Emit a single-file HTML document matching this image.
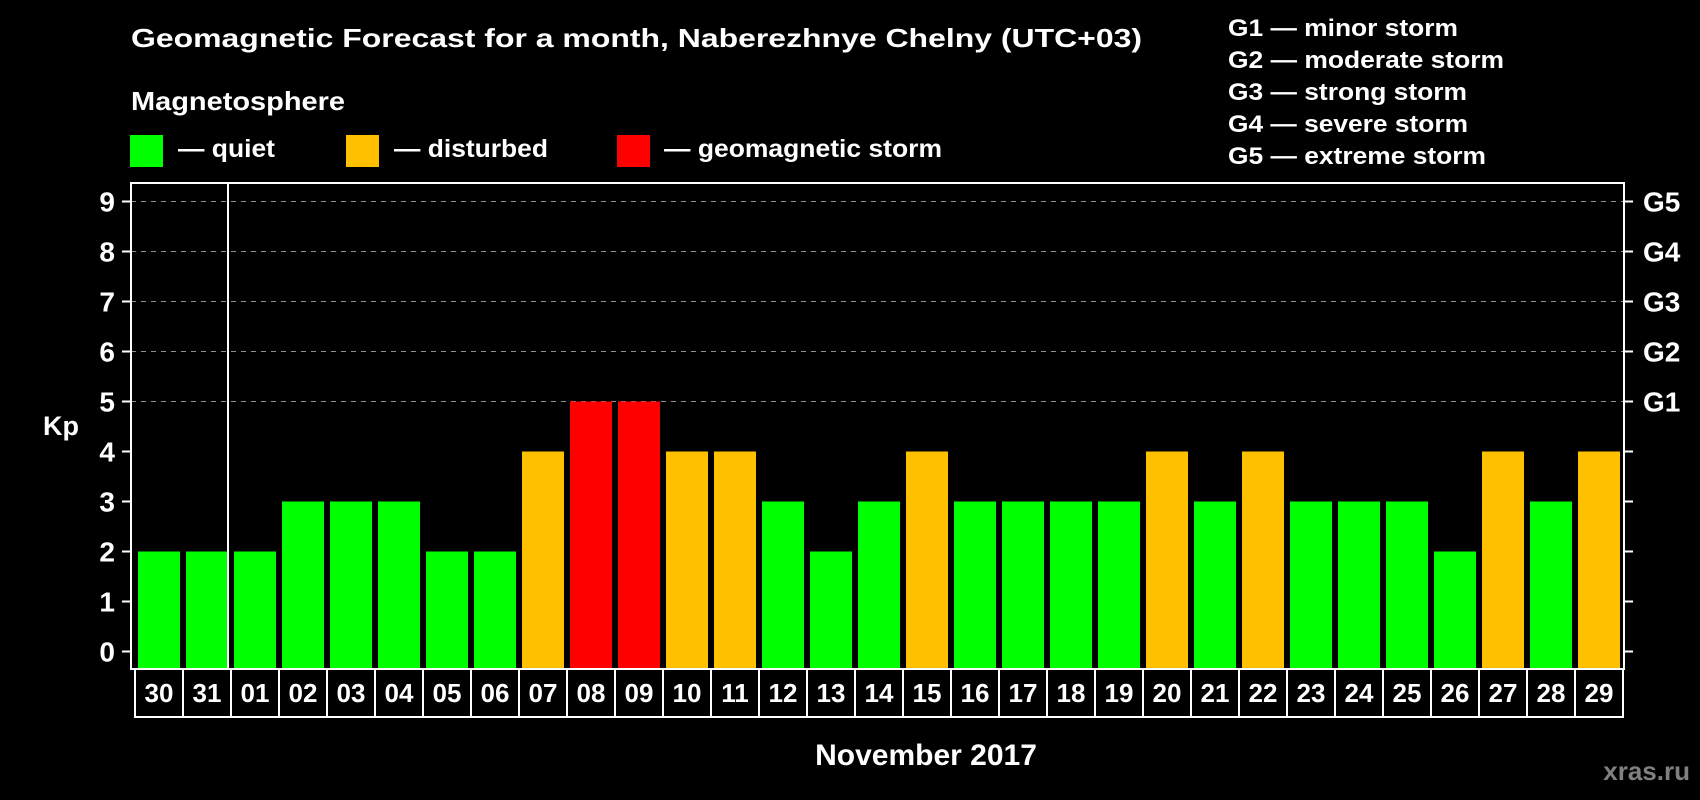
<!DOCTYPE html>
<html><head><meta charset="utf-8"><style>html,body{margin:0;padding:0;background:#000}svg{display:block}text{font-family:"Liberation Sans",Arial,sans-serif;font-weight:bold;fill:#fff}</style></head>
<body>
<svg id="chart" width="1700" height="800" viewBox="0 0 1700 800" xmlns="http://www.w3.org/2000/svg">
<rect width="1700" height="800" fill="#000"/>
<text x="131" y="47" font-size="26" textLength="1011" lengthAdjust="spacingAndGlyphs">Geomagnetic Forecast for a month, Naberezhnye Chelny (UTC+03)</text>
<text x="131" y="110" font-size="26" textLength="214" lengthAdjust="spacingAndGlyphs">Magnetosphere</text>
<g><rect x="130" y="135" width="33" height="32" fill="#00ff00"/><text x="178" y="157" font-size="25" textLength="97" lengthAdjust="spacingAndGlyphs">— quiet</text></g>
<g><rect x="346" y="135" width="33" height="32" fill="#ffc000"/><text x="394" y="157" font-size="25" textLength="154" lengthAdjust="spacingAndGlyphs">— disturbed</text></g>
<g><rect x="617" y="135" width="33" height="32" fill="#ff0000"/><text x="664" y="157" font-size="25" textLength="278" lengthAdjust="spacingAndGlyphs">— geomagnetic storm</text></g>
<g font-size="24">
<text x="1228" y="36" textLength="230" lengthAdjust="spacingAndGlyphs">G1 — minor storm</text>
<text x="1228" y="68" textLength="276" lengthAdjust="spacingAndGlyphs">G2 — moderate storm</text>
<text x="1228" y="100" textLength="239" lengthAdjust="spacingAndGlyphs">G3 — strong storm</text>
<text x="1228" y="132" textLength="240" lengthAdjust="spacingAndGlyphs">G4 — severe storm</text>
<text x="1228" y="164" textLength="258" lengthAdjust="spacingAndGlyphs">G5 — extreme storm</text>
</g>
<g id="plot"></g>
<text x="43" y="435" font-size="27">Kp</text>
<text x="926" y="765" font-size="30" text-anchor="middle">November 2017</text>
<text x="1690" y="780" font-size="26" text-anchor="end" style="fill:#808080">xras.ru</text>
</svg>
<script>
const days = ["30","31","01","02","03","04","05","06","07","08","09","10","11","12","13","14","15","16","17","18","19","20","21","22","23","24","25","26","27","28","29"];
const kpValues = [2,2,2,3,3,3,2,2,4,5,5,4,4,3,2,3,4,3,3,3,3,4,3,4,3,3,3,2,4,3,4];
const yTicks = [0,1,2,3,4,5,6,7,8,9];
const gLabels = ["G1","G2","G3","G4","G5"];
const gLevels = [5,6,7,8,9];

const NS="http://www.w3.org/2000/svg";
const g=document.getElementById('plot');
const L=131,R=1624,T=183,B=669,slot=48,x0=135;
function yScale(v){return 651.5-v*50;}
function xSlot(i){return x0+i*slot;}
function mk(tag,attrs){const e=document.createElementNS(NS,tag);for(const k in attrs)e.setAttribute(k,attrs[k]);g.appendChild(e);return e;}
function color(v){return v>=5?"#ff0000":(v>=4?"#ffc000":"#00ff00");}
// gridlines
yTicks.forEach(v=>{
  if(v>=5){const ln=mk('line',{x1:L,x2:R,y1:yScale(v),y2:yScale(v),stroke:'#909090','stroke-width':1,'stroke-dasharray':'5,5'});
  
  }
  const t=mk('line',{x1:L-9,x2:L,y1:yScale(v),y2:yScale(v),stroke:'#fff','stroke-width':2});
  
  
  const t2=mk('line',{x1:R,x2:R+9,y1:yScale(v),y2:yScale(v),stroke:'#fff','stroke-width':2});
  
  
  const tx=mk('text',{x:115,y:yScale(v)+10,'font-size':28,'text-anchor':'end'});
  tx.textContent=v;
  
  
});
gLabels.forEach((s,i)=>{
  const tx=mk('text',{x:1643,y:yScale(gLevels[i])+10,'font-size':28});
  tx.textContent=s;
  
  
});
// bars
kpValues.forEach((v,i)=>{
  const r=mk('rect',{x:xSlot(i)+3,y:yScale(v),width:42,height:yScale(0)+17.5-yScale(v),fill:color(v)});
  
  
});
// frame
const fr=mk('rect',{x:L,y:T,width:R-L,height:B-T,fill:'none',stroke:'#fff','stroke-width':2});


const dv=mk('line',{x1:xSlot(2)-3,x2:xSlot(2)-3,y1:T,y2:B,stroke:'#fff','stroke-width':2});


// date boxes
days.forEach((d,i)=>{
  const r=mk('rect',{x:xSlot(i),y:B,width:slot,height:48,fill:'none',stroke:'#fff','stroke-width':2});
  
  
  const t=mk('text',{x:xSlot(i)+slot/2,y:702,'font-size':26,'text-anchor':'middle'});
  t.textContent=d;
  
  
});
</script>
</body></html>
